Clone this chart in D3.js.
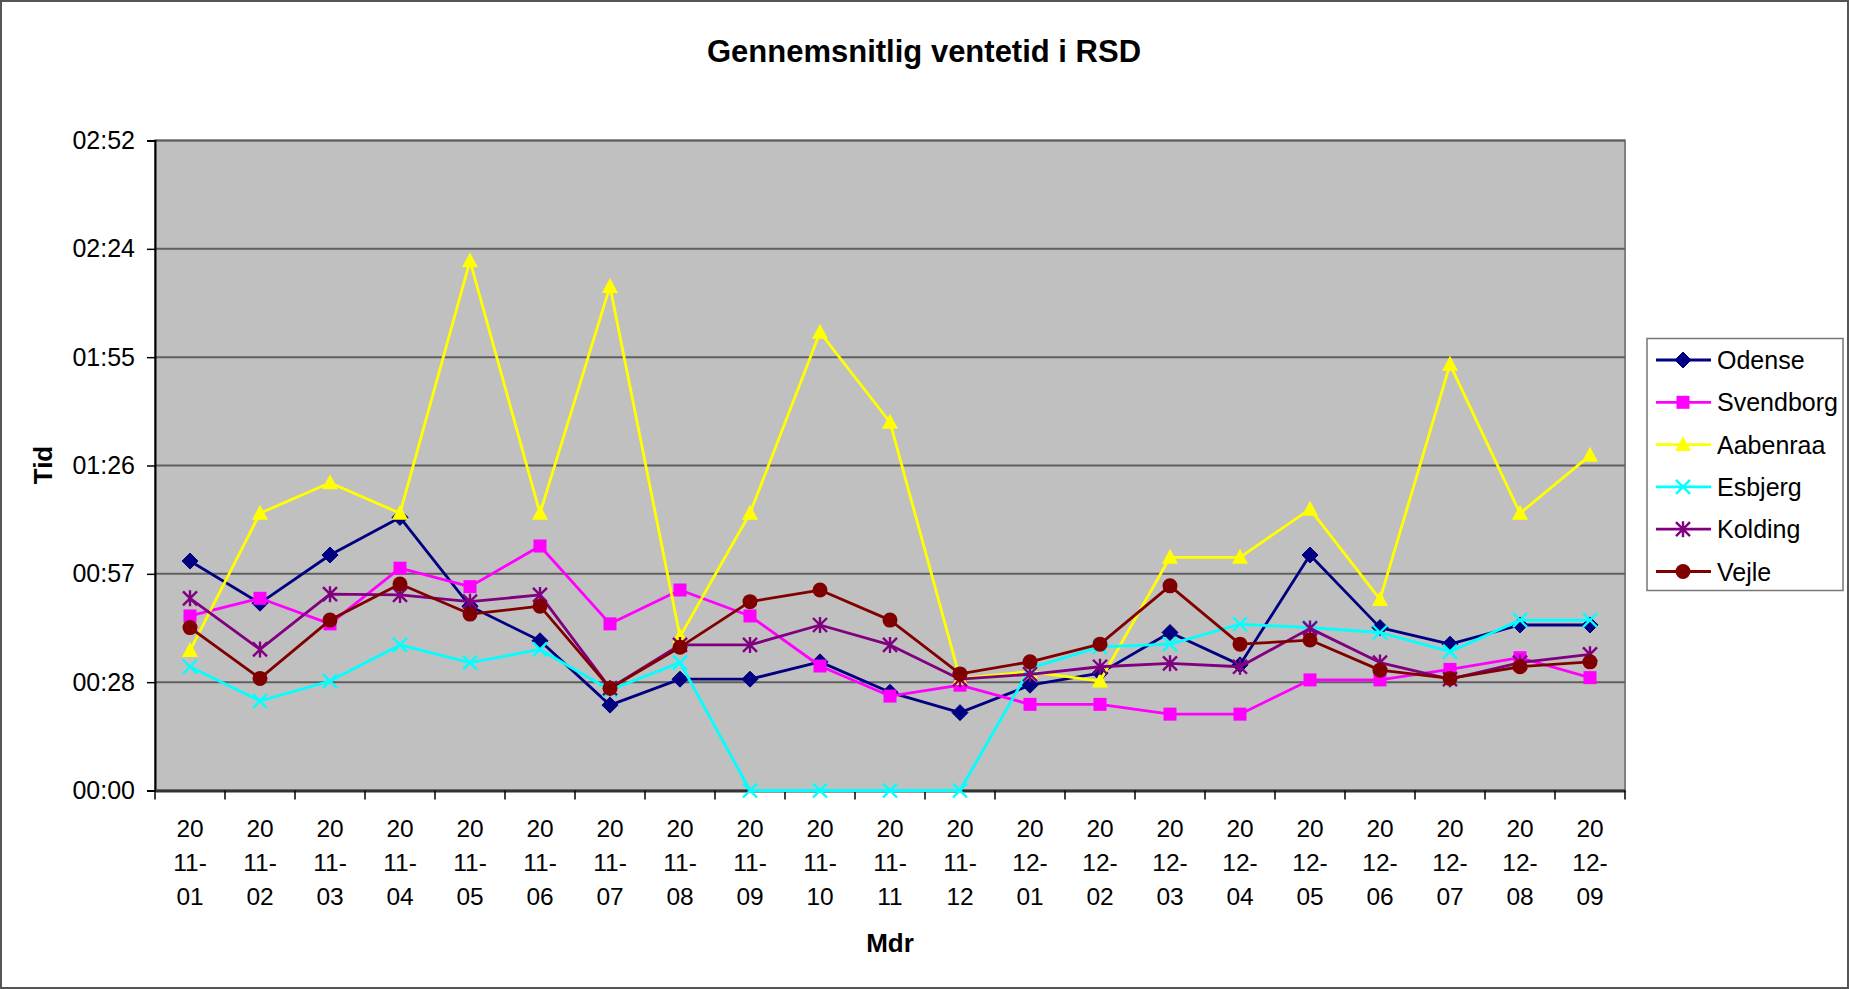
<!DOCTYPE html>
<html>
<head>
<meta charset="utf-8">
<script src="https://cdn.jsdelivr.net/npm/d3@7"></script>
<style>
  html, body { margin: 0; padding: 0; background: #fff; }
  svg { display: block; font-family: "Liberation Sans", Arial, sans-serif; }
</style>
</head>
<body>
<svg id="chart" width="1849" height="989"></svg>
<script>
// ---- data (minutes) ----
const categories = ["2011-01","2011-02","2011-03","2011-04","2011-05","2011-06","2011-07","2011-08","2011-09","2011-10","2011-11","2011-12","2012-01","2012-02","2012-03","2012-04","2012-05","2012-06","2012-07","2012-08","2012-09"];
const odense    = [61.0, 49.8, 62.6, 72.6, 49.0, 39.8, 22.7, 29.6, 29.6, 34.2, 26.1, 20.7, 28.0, 31.2, 42.0, 33.4, 62.6, 43.3, 38.9, 44.0, 44.0];
const svendborg = [46.4, 51.1, 44.3, 59.1, 54.2, 65.0, 44.3, 53.3, 46.4, 33.1, 25.1, 28.0, 22.9, 22.9, 20.3, 20.3, 29.4, 29.4, 32.2, 35.3, 30.0];
const aabenraa  = [37.2, 73.7, 81.8, 73.7, 140.8, 73.7, 134.0, 40.9, 73.7, 121.8, 97.9, 29.8, 31.6, 29.1, 62.0, 62.0, 74.8, 50.8, 113.3, 73.7, 89.1];
const esbjerg   = [32.9, 23.8, 29.1, 38.7, 34.0, 37.5, 26.7, 34.0, 0, 0, 0, 0, 32.5, 38.2, 38.9, 44.2, 43.3, 42.0, 36.9, 45.3, 45.3];
const kolding   = [51.1, 37.5, 52.2, 52.0, 50.2, 52.0, 27.2, 38.7, 38.7, 44.0, 38.7, 29.6, 30.9, 32.9, 33.8, 32.9, 43.1, 34.0, 29.6, 34.0, 36.2];
const vejle     = [43.3, 29.8, 45.3, 54.9, 46.9, 49.0, 27.2, 38.1, 50.2, 53.3, 45.3, 31.0, 34.2, 38.9, 54.4, 38.9, 40.0, 32.0, 29.8, 32.9, 34.2];
const seriesNames = ["Odense","Svendborg","Aabenraa","Esbjerg","Kolding","Vejle"];
const yTickValues = [0, 28.8, 57.6, 86.4, 115.2, 144, 172.8];
const titleText = "Gennemsnitlig ventetid i RSD";
const xTitle = "Mdr";
const yTitle = "Tid";

// ---- styles ----
const seriesData = [odense, svendborg, aabenraa, esbjerg, kolding, vejle];
const colors = ["#000080", "#FF00FF", "#FFFF00", "#00FFFF", "#800080", "#800000"];
const markers = ["diamond", "square", "triangle", "x", "star", "circle"];

const svg = d3.select("#chart");
const W = 1849, H = 989;
const plot = { left: 155, right: 1625, top: 140.5, bottom: 790.5 };

// outer border
svg.append("rect").attr("x", 1).attr("y", 1).attr("width", W - 2).attr("height", H - 2)
  .attr("fill", "#fff").attr("stroke", "#555").attr("stroke-width", 2);

const x = d3.scaleBand().domain(categories).range([plot.left, plot.right]).padding(0);
const y = d3.scaleLinear().domain([0, 172.8]).range([plot.bottom, plot.top]);

// plot background
svg.append("rect").attr("x", plot.left).attr("y", plot.top)
  .attr("width", plot.right - plot.left).attr("height", plot.bottom - plot.top)
  .attr("fill", "#C0C0C0").attr("stroke", "#808080").attr("stroke-width", 2);

// gridlines
svg.append("g").selectAll("line").data(yTickValues.slice(1)).join("line")
  .attr("x1", plot.left).attr("x2", plot.right)
  .attr("y1", d => y(d)).attr("y2", d => y(d))
  .attr("stroke", "#5f5f5f").attr("stroke-width", 2);

const fmt = m => {
  const h = Math.floor(m / 60 + 1e-9);
  const mm = Math.floor(m - h * 60 + 1e-9);
  return String(h).padStart(2, "0") + ":" + String(mm).padStart(2, "0");
};

// y axis
const yAxis = d3.axisLeft(y).tickValues(yTickValues).tickFormat(fmt).tickSize(8).tickPadding(12);
const gy = svg.append("g").attr("transform", `translate(${plot.left},0)`).call(yAxis);
gy.select(".domain").attr("stroke", "#000").attr("stroke-width", 2);
gy.selectAll(".tick line").attr("stroke", "#000").attr("stroke-width", 1.5);
gy.selectAll(".tick text").attr("font-size", 25).attr("fill", "#000")
  .attr("font-family", "Liberation Sans, Arial, sans-serif");

// x axis
const xAxis = d3.axisBottom(x).tickSize(0).tickFormat("");
const gx = svg.append("g").attr("transform", `translate(0,${plot.bottom})`).call(xAxis);
gx.select(".domain").attr("stroke", "#333").attr("stroke-width", 3);
// boundary ticks
const bounds = categories.map(c => x(c)).concat([plot.right]);
gx.selectAll(".btick").data(bounds).join("line").attr("class", "btick")
  .attr("x1", d => d).attr("x2", d => d).attr("y1", 0).attr("y2", 9)
  .attr("stroke", "#000").attr("stroke-width", 1.5);
// labels
const lbl = gx.selectAll(".xl").data(categories).join("text").attr("class", "xl")
  .attr("text-anchor", "middle").attr("font-size", 24.5).attr("fill", "#000")
  .attr("transform", d => `translate(${x(d) + x.bandwidth() / 2},0)`);
lbl.each(function(d) {
  const parts = [d.slice(0, 2), d.slice(2, 5), d.slice(5)];
  const t = d3.select(this);
  parts.forEach((p, i) => t.append("tspan").attr("x", 0).attr("y", 46 + i * 34).text(p));
});

// titles
svg.append("text").attr("x", 924).attr("y", 62).attr("text-anchor", "middle")
  .attr("font-size", 31).attr("font-weight", "bold").text(titleText);
svg.append("text").attr("x", (plot.left + plot.right) / 2).attr("y", 952).attr("text-anchor", "middle")
  .attr("font-size", 26).attr("font-weight", "bold").text(xTitle);
svg.append("text").attr("transform", `translate(52,465) rotate(-90)`).attr("text-anchor", "middle")
  .attr("font-size", 26).attr("font-weight", "bold").text(yTitle);

// marker drawing
function drawMarker(g, type, color, cx, cy) {
  switch (type) {
    case "diamond":
      g.append("path").attr("d", `M${cx},${cy-8}L${cx+8},${cy}L${cx},${cy+8}L${cx-8},${cy}Z`)
        .attr("fill", color).attr("stroke", color).attr("stroke-width", 1);
      break;
    case "square":
      g.append("rect").attr("x", cx - 6.5).attr("y", cy - 6.5).attr("width", 13).attr("height", 13)
        .attr("fill", color);
      break;
    case "triangle":
      g.append("path").attr("d", `M${cx},${cy-8.5}L${cx+8},${cy+6.5}L${cx-8},${cy+6.5}Z`).attr("fill", color);
      break;
    case "x":
      g.append("path").attr("d", `M${cx-7},${cy-7}L${cx+7},${cy+7}M${cx-7},${cy+7}L${cx+7},${cy-7}`)
        .attr("stroke", color).attr("stroke-width", 2.4).attr("fill", "none");
      break;
    case "star":
      g.append("path").attr("d", `M${cx-7},${cy-7}L${cx+7},${cy+7}M${cx-7},${cy+7}L${cx+7},${cy-7}M${cx},${cy-8}L${cx},${cy+8}`)
        .attr("stroke", color).attr("stroke-width", 2.4).attr("fill", "none");
      break;
    case "circle":
      g.append("circle").attr("cx", cx).attr("cy", cy).attr("r", 7.5).attr("fill", color);
      break;
  }
}

const line = d3.line().x((d, i) => x(categories[i]) + x.bandwidth() / 2).y(d => y(d));

seriesData.forEach((vals, s) => {
  const g = svg.append("g");
  g.append("path").datum(vals).attr("d", line).attr("fill", "none")
    .attr("stroke", colors[s]).attr("stroke-width", 2.8).attr("stroke-linejoin", "round");
  vals.forEach((v, i) => drawMarker(g, markers[s], colors[s], x(categories[i]) + x.bandwidth() / 2, y(v)));
});

// legend
const leg = svg.append("g");
leg.append("rect").attr("x", 1647).attr("y", 338.5).attr("width", 196).attr("height", 252)
  .attr("fill", "#fff").attr("stroke", "#777").attr("stroke-width", 1.5);
seriesNames.forEach((name, s) => {
  const cy = 360 + s * 42.3;
  leg.append("line").attr("x1", 1656).attr("x2", 1711).attr("y1", cy).attr("y2", cy)
    .attr("stroke", colors[s]).attr("stroke-width", 2.8);
  drawMarker(leg, markers[s], colors[s], 1683, cy);
  leg.append("text").attr("x", 1717).attr("y", cy + 9).attr("font-size", 25).attr("fill", "#000").text(name);
});
</script>
</body>
</html>
